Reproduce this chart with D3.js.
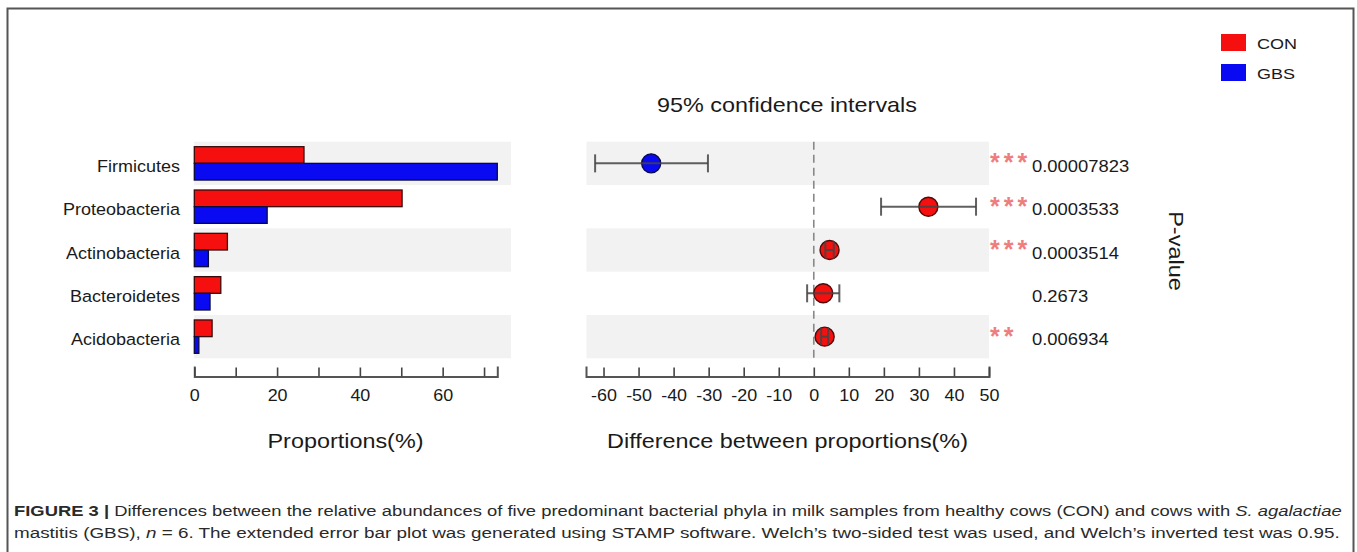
<!DOCTYPE html>
<html>
<head>
<meta charset="utf-8">
<script src="https://cdn.jsdelivr.net/npm/d3@7"></script>
<style>
  html, body { margin: 0; padding: 0; background: #fff; }
  svg { display: block; font-family: "Liberation Sans", Arial, Helvetica, sans-serif; }
</style>
</head>
<body>
<svg id="chart" width="1357" height="552"></svg>
<script>
// Phyla compared between the two groups
const categories = ["Firmicutes", "Proteobacteria", "Actinobacteria", "Bacteroidetes", "Acidobacteria"];
const groups = ["CON", "GBS"];
// Mean proportions (%) per group
const conValues = [26.5, 50.2, 8.0, 6.4, 4.3];
const gbsValues = [73.2, 17.6, 3.4, 3.8, 1.1];
// Difference between proportions (%) with 95% confidence interval
const diffValues = [-46.4, 32.7, 4.5, 2.7, 3.1];
const ciLow = [-62.4, 19.2, 3.3, -1.9, 2.1];
const ciHigh = [-30.2, 46.3, 5.7, 7.3, 4.1];
// Welch's t-test p-values and significance marks
const pValues = ["0.00007823", "0.0003533", "0.0003514", "0.2673", "0.006934"];
const sigMarks = ["***", "***", "***", "", "**"];
// Axis ticks
const propTicks = [0, 10, 20, 30, 40, 50, 60, 70];
const propTickLabels = ["0", "", "20", "", "40", "", "60", ""];
const diffTicks = [-60, -50, -40, -30, -20, -10, 0, 10, 20, 30, 40, 50];
const diffDomain = [-65, 50];

const colors = { CON: "#f50f0f", GBS: "#0a0af2" };

const svg = d3.select("#chart");

// outer frame
svg.append("rect")
  .attr("x", 7.5).attr("y", 8.5).attr("width", 1346).attr("height", 600)
  .attr("fill", "none").attr("stroke", "#555").attr("stroke-width", 2);

// helper: text with a horizontal stretch
function stretchedText(g, x, y, str, size, sx, anchor) {
  return g.append("text")
    .attr("transform", `translate(${x},${y}) scale(${sx},1)`)
    .attr("font-size", size)
    .attr("text-anchor", anchor || "start")
    .attr("fill", "#1a1a1a")
    .text(str);
}

const y = d3.scaleBand().domain(categories).range([141.7, 358.3]).padding(0);
const bw = y.bandwidth();

// ---------- left panel: proportions ----------
const xProp = d3.scaleLinear()
  .domain([0, d3.max(conValues.concat(gbsValues))])
  .range([194.3, 497.3]);

const left = svg.append("g");
left.selectAll("rect.band")
  .data(categories.filter((d, i) => i % 2 === 0))
  .join("rect")
  .attr("class", "band")
  .attr("x", 194).attr("width", 511 - 194)
  .attr("y", d => y(d)).attr("height", bw)
  .attr("fill", "#f2f2f2");

const barH = bw * 0.385;
const barTop = bw * 0.115;
categories.forEach((c, i) => {
  left.append("rect")
    .attr("x", xProp(0)).attr("y", y(c) + barTop)
    .attr("width", xProp(conValues[i]) - xProp(0)).attr("height", barH)
    .attr("fill", colors.CON).attr("stroke", "#3a0a0a").attr("stroke-width", 1.3);
  left.append("rect")
    .attr("x", xProp(0)).attr("y", y(c) + barTop + barH)
    .attr("width", xProp(gbsValues[i]) - xProp(0)).attr("height", barH)
    .attr("fill", colors.GBS).attr("stroke", "#0a0a3a").attr("stroke-width", 1.3);
});

// category labels
categories.forEach(c => {
  stretchedText(left, 180, y(c) + bw / 2 + 8.5, c, 17, 1.06, "end");
});

function styleAxis(g) {
  g.select(".domain").attr("stroke", "#555").attr("stroke-width", 2);
  g.selectAll(".tick line").attr("stroke", "#444").attr("stroke-width", 1.6);
  g.selectAll(".tick text")
    .attr("fill", "#1a1a1a")
    .attr("font-size", 16)
    .attr("font-family", "'Liberation Sans', Arial, sans-serif")
    .attr("transform", "scale(1.12,1)")
    .attr("x", 0);
}

const axisY = 376.5;
const propAxis = d3.axisBottom(xProp)
  .tickValues(propTicks)
  .tickFormat((d, i) => propTickLabels[i])
  .tickSizeInner(-9).tickSizeOuter(-10).tickPadding(13);
const gPropAxis = svg.append("g").attr("transform", `translate(0,${axisY})`).call(propAxis);
styleAxis(gPropAxis);

stretchedText(svg, 345.5, 447.5, "Proportions(%)", 20, 1.17, "middle");

// ---------- right panel: differences ----------
const xDiff = d3.scaleLinear().domain(diffDomain).range([586, 989]);
const right = svg.append("g");
right.selectAll("rect.band")
  .data(categories.filter((d, i) => i % 2 === 0))
  .join("rect")
  .attr("class", "band")
  .attr("x", 586.5).attr("width", 989 - 586.5)
  .attr("y", d => y(d)).attr("height", bw)
  .attr("fill", "#f2f2f2");

right.append("line")
  .attr("x1", xDiff(0)).attr("x2", xDiff(0))
  .attr("y1", y.range()[0]).attr("y2", y.range()[1])
  .attr("stroke", "#888").attr("stroke-width", 1.6)
  .attr("stroke-dasharray", "8,5");

categories.forEach((c, i) => {
  const cy = y(c) + bw / 2;
  const col = diffValues[i] < 0 ? colors.GBS : colors.CON;
  const g = right.append("g");
  g.append("circle")
    .attr("cx", xDiff(diffValues[i])).attr("cy", cy).attr("r", 9.5)
    .attr("fill", col).attr("stroke", diffValues[i] < 0 ? "#0a0a50" : "#500a0a").attr("stroke-width", 1.4);
  const eb = g.append("g").attr("stroke", "#444").attr("stroke-width", 2).attr("stroke-opacity", 0.85);
  eb.append("line")
    .attr("x1", xDiff(ciLow[i])).attr("x2", xDiff(ciHigh[i]))
    .attr("y1", cy).attr("y2", cy);
  [ciLow[i], ciHigh[i]].forEach(v => {
    eb.append("line")
      .attr("x1", xDiff(v)).attr("x2", xDiff(v))
      .attr("y1", cy - 9).attr("y2", cy + 9);
  });
  // significance stars and p-value
  if (sigMarks[i]) {
    right.append("text")
      .attr("x", 990).attr("y", cy + 8)
      .attr("font-size", 25).attr("font-weight", "bold")
      .attr("letter-spacing", 4)
      .attr("fill", "#ee7e7e")
      .text(sigMarks[i]);
  }
  stretchedText(right, 1032, cy + 8.5, pValues[i], 16, 1.15, "start");
});

const diffAxis = d3.axisBottom(xDiff)
  .tickValues(diffTicks)
  .tickFormat(d => String(d))
  .tickSizeInner(-9).tickSizeOuter(-10).tickPadding(13);
const gDiffAxis = svg.append("g").attr("transform", `translate(0,${axisY})`).call(diffAxis);
styleAxis(gDiffAxis);

stretchedText(svg, 787.5, 447.5, "Difference between proportions(%)", 20, 1.17, "middle");

// title
stretchedText(svg, 787, 112, "95% confidence intervals", 20, 1.17, "middle");

// P-value side label
svg.append("text")
  .attr("transform", "translate(1169,251) rotate(90) scale(1.12,1)")
  .attr("text-anchor", "middle")
  .attr("font-size", 21)
  .attr("fill", "#1a1a1a")
  .text("P-value");

// legend
const legend = svg.append("g");
groups.forEach((gname, i) => {
  legend.append("rect")
    .attr("x", 1221).attr("y", 34 + i * 30)
    .attr("width", 25).attr("height", 17)
    .attr("fill", colors[gname]);
  stretchedText(legend, 1257, 48.5 + i * 30, gname, 15, 1.2, "start");
});

// caption: each line is stretched to span the caption width
const capLeft = 14;
const capLines = [
  { y: 516, right: 1343, parts: [
    { t: "FIGURE 3 | ", w: "bold" },
    { t: "Differences between the relative abundances of five predominant bacterial phyla in milk samples from healthy cows (CON) and cows with " },
    { t: "S. agalactiae", s: "italic" }] },
  { y: 537.5, right: 1341, parts: [
    { t: "mastitis (GBS), " },
    { t: "n", s: "italic" },
    { t: " = 6. The extended error bar plot was generated using STAMP software. Welch\u2019s two-sided test was used, and Welch\u2019s inverted test was 0.95." }] }
];
const cap = svg.append("g").attr("fill", "#2a2a2a").attr("font-size", 15.5);
capLines.forEach(line => {
  const t = cap.append("text").attr("x", 0).attr("y", 0);
  line.parts.forEach(p => {
    t.append("tspan")
      .attr("font-weight", p.w || null)
      .attr("font-style", p.s || null)
      .text(p.t);
  });
  const natural = t.node().getComputedTextLength();
  const sx = (line.right - capLeft) / natural;
  t.attr("transform", `translate(${capLeft},${line.y}) scale(${sx},1)`);
});
</script>
</body>
</html>
